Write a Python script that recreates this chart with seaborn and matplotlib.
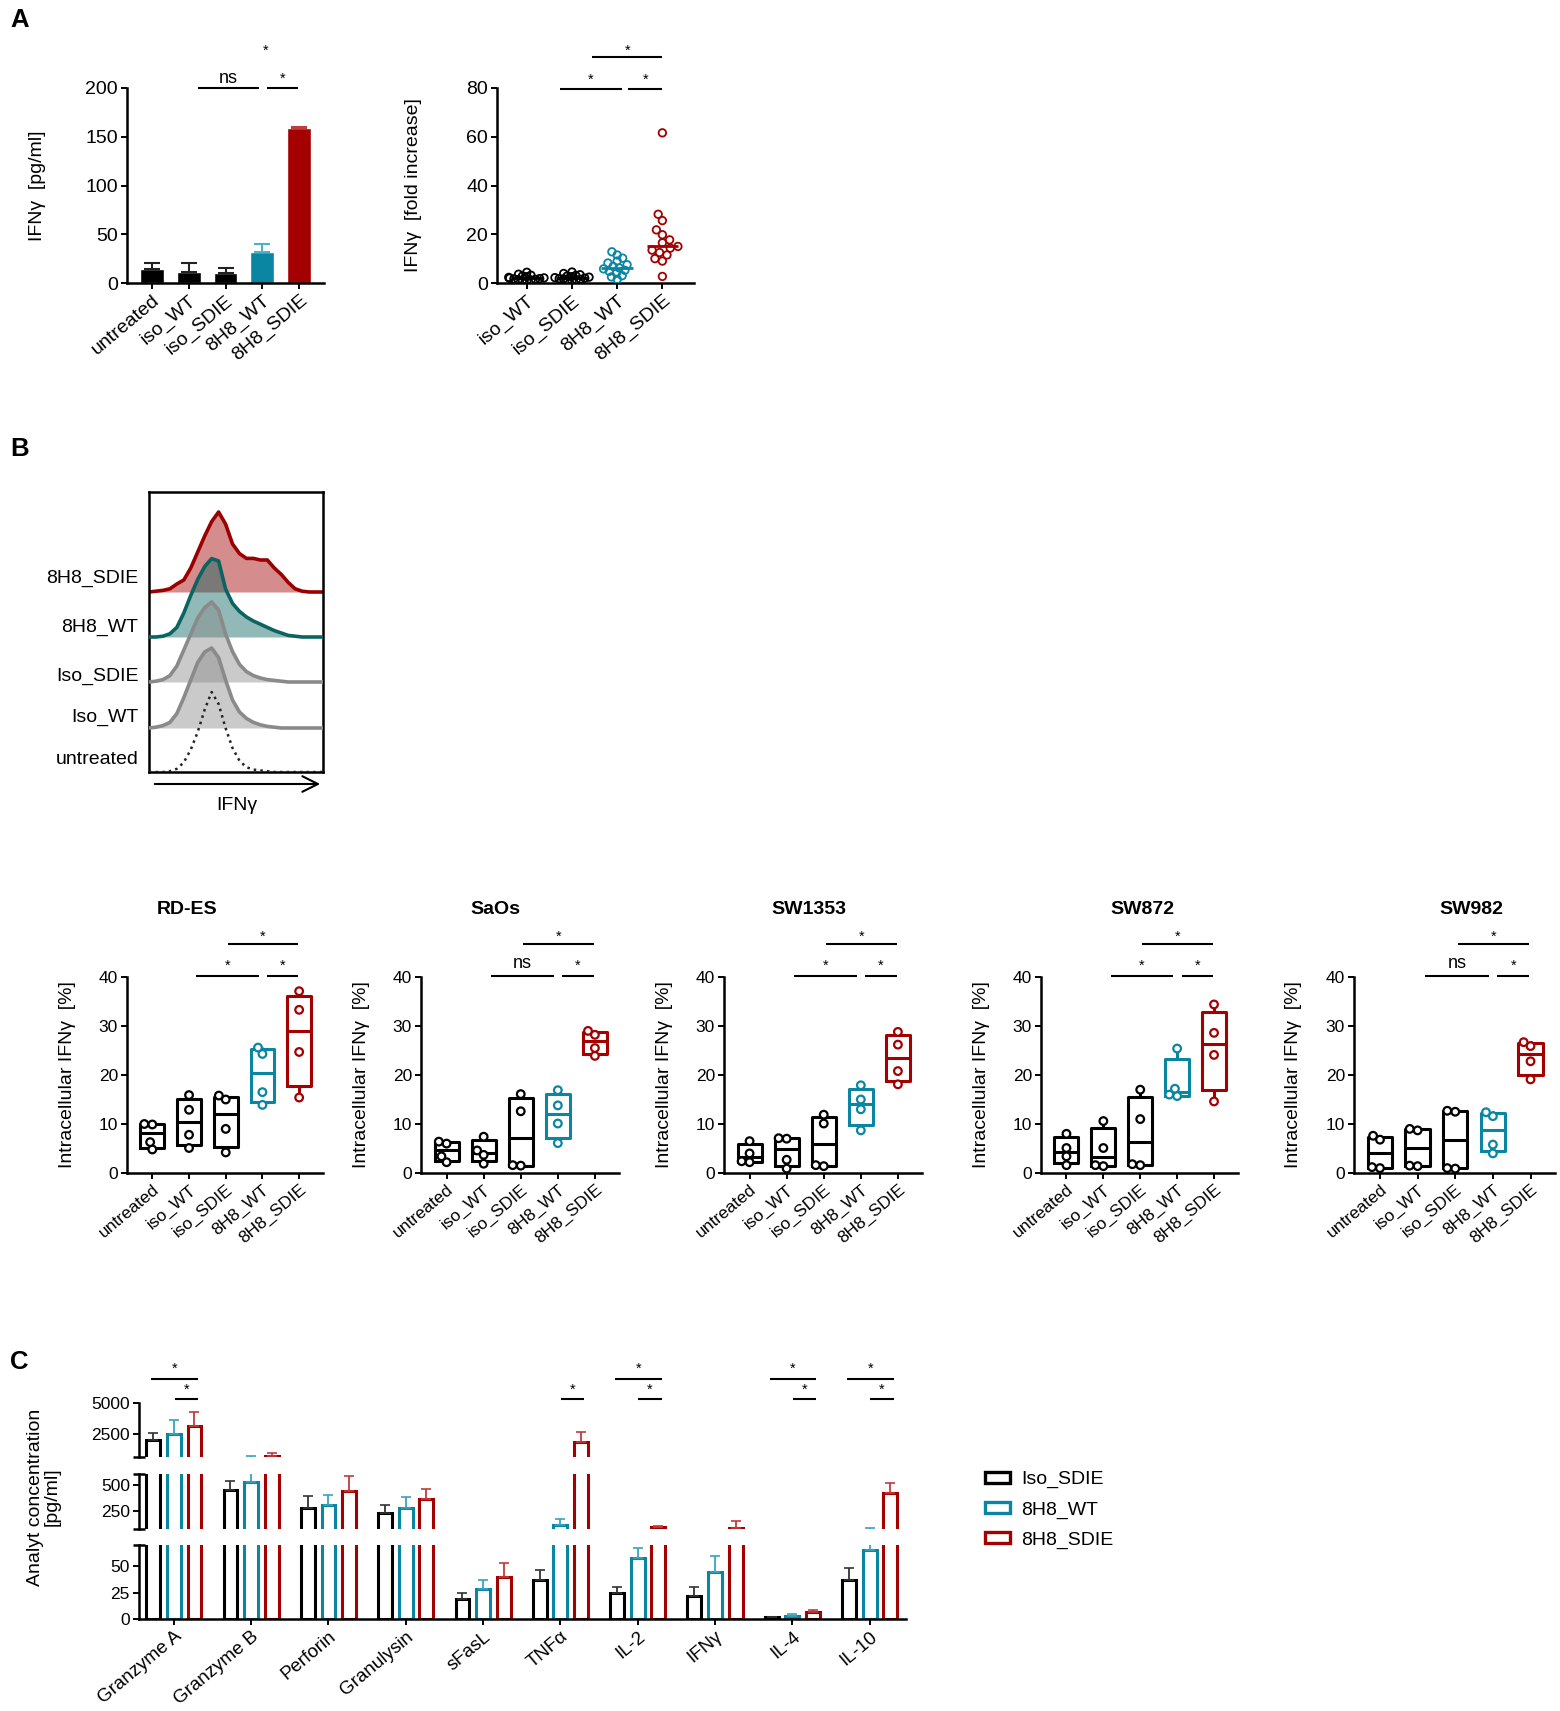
import matplotlib
matplotlib.use("Agg")
import matplotlib.pyplot as plt
from matplotlib.patches import Patch
import seaborn as sns
import pandas as pd
import numpy as np

sns.set_theme(style="ticks", rc={"axes.edgecolor": "black", "xtick.color": "black",
                                 "ytick.color": "black", "text.color": "black",
                                 "axes.labelcolor": "black"})
plt.rcParams['font.family'] = ['Liberation Sans', 'DejaVu Sans']

PRETO = '#000000'
AZUL = '#0a86a3'
VERMELHO = '#a50000'

#%% dados - painel A
grupos_a = ['untreated', 'iso_WT', 'iso_SDIE', '8H8_WT', '8H8_SDIE']
ifng_pgml = [14.6, 11.6, 10.2, 31.7, 159.1]
ifng_pgml_err = [5.8, 8.8, 5.1, 7.8, 0.4]

grupos_fold = ['iso_WT', 'iso_SDIE', '8H8_WT', '8H8_SDIE']
fold_iso_wt = [0.8, 1.0, 1.2, 1.4, 1.5, 1.7, 1.8, 2.0, 2.1, 2.3, 2.6, 2.9, 3.2, 3.6, 4.4]
fold_iso_sdie = [0.9, 1.1, 1.3, 1.5, 1.7, 1.8, 2.0, 2.2, 2.4, 2.6, 2.9, 3.1, 3.4, 3.9, 4.5]
fold_8h8_wt = [1.5, 2.5, 3.0, 4.0, 4.8, 5.2, 5.8, 6.2, 6.8, 7.5, 8.2, 9.0, 10.2, 11.5, 12.8]
fold_8h8_sdie = [2.7, 9.0, 10.0, 11.5, 12.5, 13.5, 14.3, 15.0, 16.5, 17.7, 19.8, 21.8, 25.6, 28.2, 61.6]

#%% dados - painel B (histogramas, altura relativa)
hist_x = list(range(0, 101, 4))
hist_8h8_sdie = [0, 0.01, 0.02, 0.04, 0.1, 0.15, 0.3, 0.5, 0.7, 0.88, 1.0, 0.85, 0.6, 0.48, 0.42,
                 0.42, 0.4, 0.4, 0.3, 0.22, 0.12, 0.04, 0.01, 0, 0, 0]
hist_8h8_wt = [0, 0, 0.01, 0.04, 0.12, 0.3, 0.52, 0.72, 0.88, 0.98, 0.95, 0.6, 0.42, 0.32, 0.25,
               0.2, 0.16, 0.12, 0.08, 0.05, 0.02, 0.01, 0, 0, 0, 0]
hist_iso_sdie = [0, 0.01, 0.03, 0.08, 0.2, 0.4, 0.6, 0.8, 0.93, 1.0, 0.9, 0.6, 0.38, 0.22, 0.13,
                 0.08, 0.05, 0.03, 0.02, 0.01, 0, 0, 0, 0, 0, 0]
hist_iso_wt = [0, 0.01, 0.03, 0.07, 0.18, 0.38, 0.6, 0.82, 0.95, 1.0, 0.88, 0.6, 0.35, 0.2, 0.12,
               0.07, 0.04, 0.02, 0.01, 0, 0, 0, 0, 0, 0, 0]
hist_untreated = [0, 0, 0, 0.01, 0.04, 0.12, 0.28, 0.5, 0.78, 1.0, 0.85, 0.55, 0.3, 0.14, 0.06,
                  0.03, 0.02, 0.01, 0, 0, 0, 0, 0, 0, 0, 0]

#%% dados - painel B (IFNy intracelular, 4 doadores)
linhagens = ['RD-ES', 'SaOs', 'SW1353', 'SW872', 'SW982']
rdes = [[4.8, 6.3, 9.9, 10.0], [5.1, 7.8, 12.9, 15.9], [4.2, 9.0, 15.0, 15.8],
        [13.9, 16.5, 24.3, 25.6], [15.4, 24.7, 33.3, 37.1]]
saos = [[2.2, 3.4, 6.0, 6.4], [1.9, 3.7, 4.6, 7.4], [1.5, 1.6, 12.6, 16.1],
        [6.1, 10.1, 13.8, 16.9], [23.9, 25.5, 28.2, 29.0]]
sw1353 = [[2.2, 2.4, 4.0, 6.5], [0.9, 2.7, 7.0, 7.1], [1.4, 1.6, 10.1, 11.9],
          [8.7, 13.0, 15.0, 17.9], [18.1, 20.8, 26.2, 28.8]]
sw872 = [[1.6, 3.4, 5.1, 8.0], [1.4, 1.6, 5.1, 10.6], [1.6, 1.8, 11.0, 17.0],
         [15.7, 16.0, 17.2, 25.4], [14.6, 24.1, 28.6, 34.4]]
sw982 = [[1.0, 1.2, 6.8, 7.6], [1.4, 1.5, 8.7, 9.0], [0.9, 1.0, 12.5, 12.7],
         [4.0, 5.8, 11.6, 12.4], [19.1, 22.8, 25.9, 26.7]]
rotulo_esq = ['*', 'ns', '*', '*', 'ns']

#%% dados - painel C
analitos = ['Granzyme A', 'Granzyme B', 'Perforin', 'Granulysin', 'sFasL', 'TNFα', 'IL-2', 'IFNγ', 'IL-4', 'IL-10']
grupos_c = ['Iso_SDIE', '8H8_WT', '8H8_SDIE']
iso_sdie_media = [1990, 447, 276, 234, 19, 37, 25, 22, 1.5, 37]
iso_sdie_err = [590, 86, 115, 69, 5.7, 9.6, 5, 8, 0.6, 10.8]
wt_media = [2500, 523, 306, 283, 28, 118, 58, 44, 2.6, 65]
wt_err = [1100, 177, 95, 95, 9, 53, 9.6, 16, 1.7, 20]
sdie_media = [3120, 740, 441, 362, 40, 1850, 95, 90, 6.3, 418]
sdie_err = [1160, 260, 141, 95, 13, 810, 15, 65, 1.8, 95]

#%% figura
W, H = 1560, 1711
fig = plt.figure(figsize=(W / 100, H / 100), dpi=100)
ROT = 40


def px_axes(l, t, r, b):
    return fig.add_axes([l / W, 1 - b / H, (r - l) / W, (b - t) / H])


def estilo(ax, fs_num=12):
    for s in ['top', 'right']:
        ax.spines[s].set_visible(False)
    for s in ['left', 'bottom']:
        ax.spines[s].set_linewidth(1.8)
    ax.tick_params(width=1.4, length=4.5, pad=2, labelsize=fs_num)


def rot_x(ax, labels, fs=13.5):
    ax.set_xticks(range(len(labels)))
    ax.set_xticklabels(labels, rotation=ROT, ha='right', rotation_mode='anchor', fontsize=fs)


def chave(ax, x0, x1, y, txt, ty, fs=10.5):
    ax.plot([x0, x1], [y, y], color='black', lw=1.5, clip_on=False, solid_capstyle='butt')
    ax.text((x0 + x1) / 2, ty, txt, ha='center', va='center', clip_on=False,
            fontsize=13 if txt == 'ns' else fs)


def abrir_pontos(ax, n0, face='none', lw=1.4, tamanho=None):
    # congela as posicoes do swarm e aplica o marcador final (aberto)
    fig.canvas.draw()
    for coll in ax.collections[n0:]:
        if 'draw' in coll.__dict__:
            del coll.draw
        fc = coll.get_facecolors()
        coll.set_edgecolors(fc)
        coll.set_facecolors(face)
        coll.set_linewidths(lw)
        coll.set_zorder(4)
        if tamanho is not None:
            coll.set_sizes([tamanho ** 2])


#%% Painel A - barras
ax = px_axes(127, 88, 324, 283)
cores_a = [PRETO, PRETO, PRETO, AZUL, VERMELHO]
cores_err_a = ['#222222', '#222222', '#222222', '#4fb0c8', '#c04040']
sns.barplot(x=grupos_a, y=ifng_pgml, hue=grupos_a, palette=cores_a, legend=False,
            width=0.65, saturation=1, ax=ax)
for i in range(5):
    ax.errorbar(i, ifng_pgml[i], yerr=[[0], [ifng_pgml_err[i]]], fmt='none', ecolor=cores_err_a[i],
                elinewidth=1.5, capsize=6, capthick=1.5)
ax.set_ylim(0, 200)
ax.set_yticks([0, 50, 100, 150, 200])
ax.set_xlim(-0.67, 4.67)
rot_x(ax, grupos_a, 13.5)
estilo(ax, 14)
ax.set_ylabel('IFNγ  [pg/ml]', fontsize=14)
ax.yaxis.set_label_coords(-0.41, 0.5)
chave(ax, 1.25, 2.9, 200, 'ns', 210)
chave(ax, 3.13, 3.97, 200, '*', 209)
ax.text(3.09, 238, '*', ha='center', va='center', fontsize=10.5, clip_on=False)

#%% Painel A - fold increase
ax = px_axes(497, 88, 694, 283)
cores_fold = [PRETO, PRETO, AZUL, VERMELHO]
series_fold = [fold_iso_wt, fold_iso_sdie, fold_8h8_wt, fold_8h8_sdie]
tam_swarm = [3.0, 3.0, 4.3, 5.4]   # espalhamento horizontal de cada grupo
ax.set_ylim(0, 80)
n0 = len(ax.collections)
for g, vals, cor, s in zip(grupos_fold, series_fold, cores_fold, tam_swarm):
    sns.swarmplot(x=[g] * len(vals), y=vals, order=grupos_fold, color=cor, size=s, ax=ax)
ax.set_ylim(0, 80)
ax.set_xlim(-0.66, 3.7)
abrir_pontos(ax, n0, 'none', 1.3, tamanho=5.4)
for i, vals in enumerate(series_fold):
    ax.hlines(np.median(vals), i - 0.35, i + 0.35, color=cores_fold[i], lw=2, zorder=5)
ax.set_yticks([0, 20, 40, 60, 80])
ax.set_xlabel('')
rot_x(ax, grupos_fold, 13.5)
estilo(ax, 14)
ax.set_ylabel('IFNγ  [fold increase]', fontsize=14)
ax.yaxis.set_label_coords(-0.38, 0.5)
chave(ax, 0.74, 2.1, 79.7, '*', 83.5)
chave(ax, 2.25, 3.0, 79.7, '*', 83.5)
chave(ax, 1.44, 3.0, 92.6, '*', 95.4)

#%% Painel B - histogramas
ax = px_axes(149, 492, 323, 772)
curvas = [('8H8_SDIE', hist_8h8_sdie, 180, '#9b0000', '#a00000', '-', 2.6),
          ('8H8_WT', hist_8h8_wt, 135, '#0b6461', '#0b6461', '-', 2.6),
          ('Iso_SDIE', hist_iso_sdie, 90, '#8a8a8a', '#8a8a8a', '-', 2.6),
          ('Iso_WT', hist_iso_wt, 44, '#8a8a8a', '#8a8a8a', '-', 2.6),
          ('untreated', hist_untreated, 0, '#222222', None, ':', 1.8)]
for k, (nome, h, base, cor_l, cor_f, ls, lw) in enumerate(curvas):
    y = base + 80 * np.array(h)
    if cor_f is not None:
        ax.fill_between(hist_x, base, y, color=cor_f, alpha=0.45, lw=0, zorder=k * 2)
    sns.lineplot(x=hist_x, y=y, color=cor_l, lw=lw, ls=ls, ax=ax, zorder=k * 2 + 1)
    ax.text(-6, [194, 145, 96, 55, 13][k], nome, ha='right', va='center', fontsize=14, clip_on=False)
ax.set_xlim(0, 100)
ax.set_ylim(0, 280)
ax.set_xticks([])
ax.set_yticks([])
for s in ax.spines.values():
    s.set_visible(True)
    s.set_linewidth(1.8)
ax.annotate('', xy=(323, H - 784), xytext=(152, H - 784), xycoords='figure pixels',
            textcoords='figure pixels', arrowprops=dict(arrowstyle='->', lw=1.5, color='black',
                                                        mutation_scale=28))
fig.text(237 / W, 1 - 806 / H, 'IFNγ', ha='center', va='center', fontsize=14)

#%% Painel B - caixas por linhagem
eixos_x = [(127, 323), (421, 619), (724, 922), (1041, 1238), (1354, 1555)]
titulos_x = [187, 495, 809, 1142, 1471]
cores_b = [PRETO, PRETO, PRETO, AZUL, VERMELHO]
for j, dados in enumerate([rdes, saos, sw1353, sw872, sw982]):
    l, r = eixos_x[j]
    ax = px_axes(l, 977, r, 1173)
    stats = []
    for v in dados:
        q1, med, q3 = np.percentile(v, [25, 50, 75], method='weibull')
        stats.append(dict(med=med, q1=q1, q3=q3, whislo=min(v), whishi=max(v), fliers=[]))
    res = ax.bxp(stats, positions=list(range(5)), widths=0.65, showcaps=False, showfliers=False,
                 manage_ticks=False, boxprops=dict(lw=2.2), whiskerprops=dict(lw=2.2),
                 medianprops=dict(lw=2.2))
    for i, c in enumerate(cores_b):
        res['boxes'][i].set_color(c)
        res['medians'][i].set_color(c)
        res['whiskers'][2 * i].set_color(c)
        res['whiskers'][2 * i + 1].set_color(c)
    df_b = pd.DataFrame({'grupo': [g for g, v in zip(grupos_a, dados) for _ in v],
                         'valor': [x for v in dados for x in v]})
    n0 = len(ax.collections)
    sns.swarmplot(data=df_b, x='grupo', y='valor', hue='grupo', order=grupos_a, palette=cores_b,
                  size=5.5, legend=False, ax=ax)
    ax.set_ylim(0, 40)
    ax.set_xlim(-0.69, 4.65)
    abrir_pontos(ax, n0, 'white', 1.6)
    ax.set_yticks([0, 10, 20, 30, 40])
    ax.set_xlabel('')
    rot_x(ax, grupos_a, 13.5)
    estilo(ax, 12.5)
    ax.set_ylabel('Intracellular IFNγ  [%]', fontsize=14)
    ax.yaxis.set_label_coords(-0.26, 0.5)
    chave(ax, 1.2, 2.9, 40.3, rotulo_esq[j], 42.7 if rotulo_esq[j] == 'ns' else 42.3)
    chave(ax, 3.12, 3.97, 40.3, '*', 42.3)
    chave(ax, 2.06, 3.97, 46.8, '*', 48.2)
    fig.text(titulos_x[j] / W, 1 - 910 / H, linhagens[j], ha='center', va='center',
             fontsize=14, weight='bold')

#%% Painel C - eixo quebrado
df_c = pd.DataFrame({'analito': analitos * 3,
                     'grupo': [g for g in grupos_c for _ in analitos],
                     'valor': iso_sdie_media + wt_media + sdie_media})
medias = [iso_sdie_media, wt_media, sdie_media]
erros = [iso_sdie_err, wt_err, sdie_err]
cores_c = [PRETO, AZUL, VERMELHO]
cores_err_c = ['#333333', '#3aa3bd', '#c23b3b']
desloc = [-0.267, 0, 0.267]

segmentos = [((1403, 1457), (650, 5000), [2500, 5000]),
             ((1474, 1529), (80, 600), [250, 500]),
             ((1545, 1619), (0, 70), [0, 25, 50])]
eixos_c = []
for (t, b), (y0, y1), ticks in segmentos:
    ax = px_axes(139, t, 906, b)
    sns.barplot(data=df_c, x='analito', y='valor', hue='grupo', order=analitos, hue_order=grupos_c,
                palette=cores_c, fill=False, gap=0.33, errorbar=None, legend=False,
                linewidth=2.2, ax=ax)
    for g in range(3):
        # so desenha a barra de erro cujo topo cai dentro deste segmento
        for i in range(10):
            topo = medias[g][i] + erros[g][i]
            if topo > y0:
                ax.errorbar(i + desloc[g], medias[g][i], yerr=[[0], [erros[g][i]]], fmt='none',
                            ecolor=cores_err_c[g], elinewidth=1.3, capsize=3.5, capthick=1.2)
    ax.set_ylim(y0, y1)
    ax.set_yticks(ticks)
    ax.set_yticks([y0, y1], minor=True)
    ax.tick_params(axis='y', which='minor', direction='inout', length=9, width=1.8)
    ax.set_xlim(-0.45, 9.47)
    ax.set_xlabel('')
    ax.set_ylabel('')
    estilo(ax, 12.5)
    eixos_c.append(ax)

ax_top, ax_mid, ax_bot = eixos_c
for ax in (ax_top, ax_mid):
    ax.spines['bottom'].set_visible(False)
    ax.set_xticks([])
ax_top.set_yticks([650], minor=True)
ax_bot.set_yticks([70], minor=True)
rot_x(ax_bot, analitos, 13.5)

# significancia
for i in [0, 6, 8, 9]:
    chave(ax_top, i - 0.29, i + 0.31, 6960, '*', 7742)
for i in [0, 5, 6, 8, 9]:
    chave(ax_top, i + 0.01, i + 0.31, 5323, '*', 6072)

fig.text(44 / W, 1 - 1497 / H, 'Analyt concentration\n[pg/ml]', rotation=90, ha='center', va='center',
         fontsize=14, multialignment='center', linespacing=1.0)

alcas = [Patch(facecolor='white', edgecolor=c, lw=2.4, label=g) for g, c in zip(grupos_c, cores_c)]
fig.legend(handles=alcas, loc='center left', bbox_to_anchor=(985 / W, 1 - 1510 / H), frameon=False,
           fontsize=14, handlelength=1.3, handleheight=0.5, handletextpad=0.55, labelspacing=0.68,
           borderpad=0, borderaxespad=0)

#%% letras dos paineis
for letra, (x, y) in zip('ABC', [(10, 20), (10, 449), (10, 1362)]):
    fig.text(x / W, 1 - y / H, letra, fontsize=18.5, weight='bold', ha='left', va='center')

fig.savefig('out.png', dpi=100, facecolor='white')
